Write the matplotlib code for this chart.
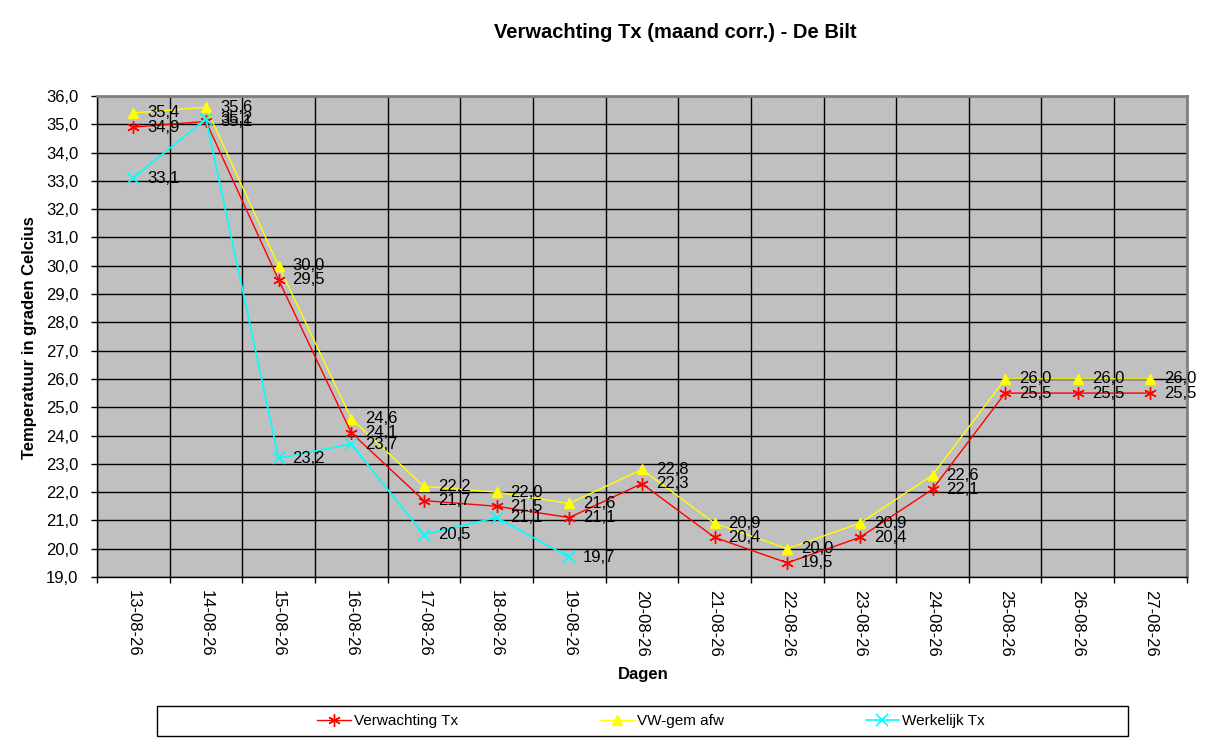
import matplotlib as mpl

mpl.use('Agg')

import matplotlib.pyplot as plt
from matplotlib.patches import Rectangle
from matplotlib.ticker import FuncFormatter, MultipleLocator, FixedLocator

plt.rcParams['font.family'] = ['Liberation Sans', 'DejaVu Sans']

dagen = ['13-08-26', '14-08-26', '15-08-26', '16-08-26', '17-08-26',
         '18-08-26', '19-08-26', '20-08-26', '21-08-26', '22-08-26',
         '23-08-26', '24-08-26', '25-08-26', '26-08-26', '27-08-26']
verwachting = [34.9, 35.1, 29.5, 24.1, 21.7, 21.5, 21.1, 22.3, 20.4, 19.5,
               20.4, 22.1, 25.5, 25.5, 25.5]
vw_gem = [35.4, 35.6, 30.0, 24.6, 22.2, 22.0, 21.6, 22.8, 20.9, 20.0,
          20.9, 22.6, 26.0, 26.0, 26.0]
werkelijk = [33.1, 35.2, 23.2, 23.7, 20.5, 21.1, 19.7]


def komma(v, pos=None):
    return f'{v:.1f}'.replace('.', ',')


fig = plt.figure(figsize=(12.21, 7.48), dpi=100)
ax = fig.add_axes([0.0794, 0.2286, 0.8926, 0.6431])
ax.set_facecolor('#C0C0C0')

x_all = list(range(len(dagen)))
ax.plot(x_all, verwachting, color='red', linewidth=1,
        marker=(6, 2, 0), markersize=9, markeredgewidth=1,
        label='Verwachting Tx', zorder=4)
ax.plot(x_all, vw_gem, color='yellow', linewidth=1,
        marker='^', markersize=7, label='VW-gem afw', zorder=3)
ax.plot(x_all[:len(werkelijk)], werkelijk, color='#00FFFF', linewidth=1.2,
        marker='x', markersize=8, markeredgewidth=1.2,
        label='Werkelijk Tx', zorder=5)

# data labels
for serie in (verwachting, vw_gem, werkelijk):
    for i, v in enumerate(serie):
        ax.annotate(komma(v), (i, v), xytext=(10, 0), textcoords='offset points',
                    va='center', ha='left', fontsize=12, color='black', zorder=6)

ax.set_xlim(-0.5, len(dagen) - 0.5)
ax.set_ylim(19, 36)
ax.yaxis.set_major_locator(MultipleLocator(1))
ax.yaxis.set_major_formatter(FuncFormatter(komma))
ax.grid(axis='y', color='black', linewidth=1)

ax.set_xticks(x_all)
ax.set_xticklabels(dagen, rotation=-90, fontsize=12)
ax.xaxis.set_minor_locator(FixedLocator([i - 0.5 for i in range(len(dagen) + 1)]))
ax.grid(axis='x', which='minor', color='black', linewidth=1)
ax.tick_params(axis='x', which='major', length=0, pad=9)
ax.tick_params(axis='x', which='minor', length=4.5, width=1, direction='out')
ax.tick_params(axis='y', length=4.5, width=1, direction='out', labelsize=12, pad=9)
ax.set_axisbelow(True)

for side in ('top', 'right'):
    ax.spines[side].set_color('#808080')
    ax.spines[side].set_linewidth(2)
for side in ('left', 'bottom'):
    ax.spines[side].set_color('black')
    ax.spines[side].set_linewidth(1)

fig.text(675 / 1221, 1 - 33 / 748, 'Verwachting Tx (maand corr.) - De Bilt',
         ha='center', va='center', fontsize=14.5, fontweight='bold')
fig.text(30 / 1221, 1 - 338 / 748, 'Temperatuur in graden Celcius',
         ha='center', va='center', rotation=90, fontsize=12, fontweight='bold')
fig.text(643 / 1221, 1 - 675 / 748, 'Dagen',
         ha='center', va='center', fontsize=12, fontweight='bold')

# legend box spanning the width, entries centered inside
fig.patches.append(Rectangle((157 / 1221, 1 - 736 / 748), 971 / 1221, 30 / 748,
                             transform=fig.transFigure, fill=False,
                             edgecolor='black', linewidth=1))
fig.legend(loc='center', bbox_to_anchor=(651 / 1221, 1 - 721 / 748),
           ncol=3, frameon=False, fontsize=11,
           handlelength=2.2, handletextpad=0.2, columnspacing=9.3)

fig.savefig('out.png', dpi=100)
